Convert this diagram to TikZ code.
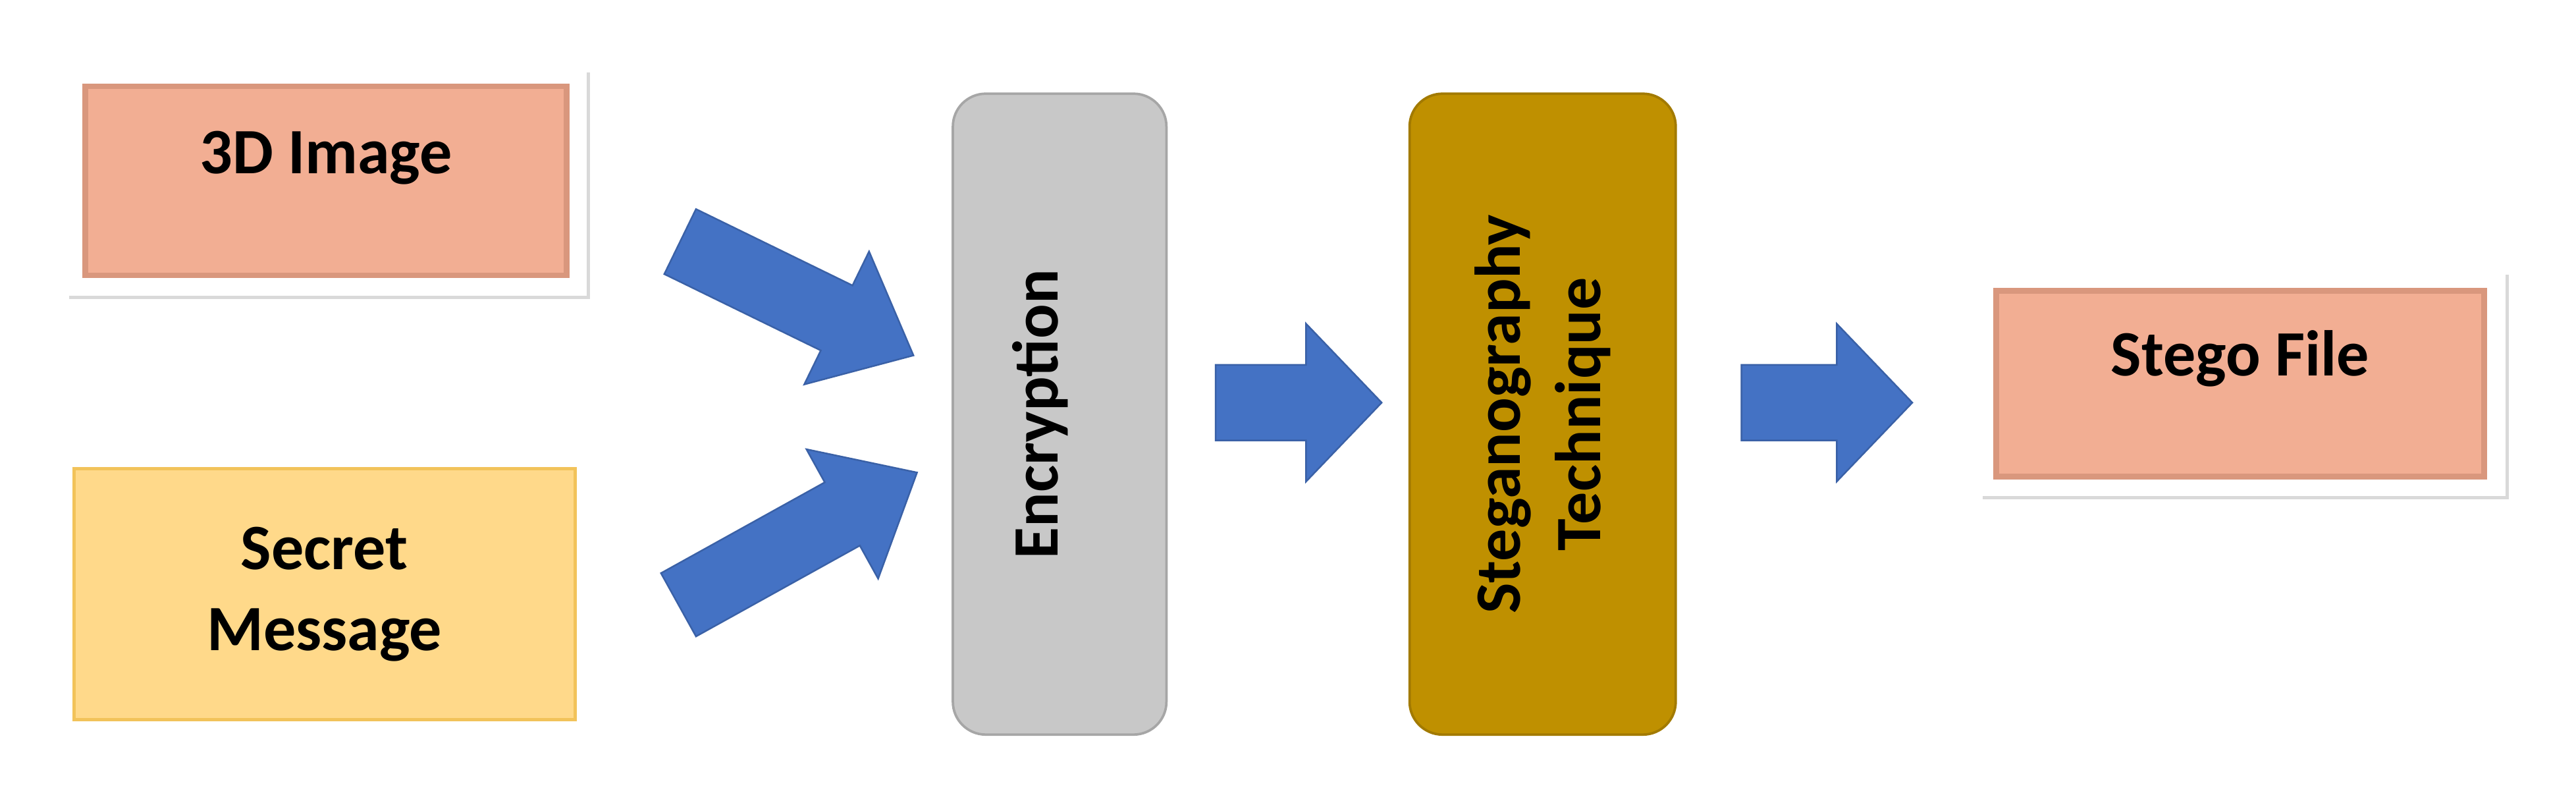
\documentclass[tikz,border=0pt]{standalone}
\usepackage{fontspec}
\setmainfont{Carlito}
\usetikzlibrary{shadows}
\begin{document}
\begin{tikzpicture}[x=0.1cm,y=-0.1cm,
  txt/.style={font=\fontsize{112}{140}\selectfont\bfseries,align=center,text=black},
  frame/.style={fill=white,draw=none,drop shadow={shadow xshift=0.2cm,shadow yshift=-0.2cm,opacity=0.3,fill=gray}},
  bevel/.style={fill=salmon,draw=salmondark,line width=0.35cm},
  barrow/.style={fill=arrowblue,draw=arrowblue!85!black,line width=0.1cm}]
\definecolor{salmon}{HTML}{F2AE93}
\definecolor{salmondark}{HTML}{D9977D}
\definecolor{yel}{HTML}{FFD98A}
\definecolor{yeldark}{HTML}{F2C35A}
\definecolor{grayb}{HTML}{C8C8C8}
\definecolor{gold}{HTML}{BF9000}
\definecolor{arrowblue}{HTML}{4472C4}
\useasboundingbox (0,0) rectangle (1568,487);
% 3D Image
\fill[frame] (40,42) rectangle (357,180);
\node[bevel,minimum width=29.3cm,minimum height=11.5cm] (img) at (198.5,110) {};
\node[txt] (imgt) at (198.5,96) {3D Image};
% Secret message
\node[fill=yel,draw=yeldark,line width=0.2cm,minimum width=30.5cm,minimum height=15.3cm,txt] (msg) at (197.5,361.5) {Secret\\Message};
% Encryption
\node[fill=grayb,draw=gray!70,line width=0.15cm,rounded corners=2cm,minimum width=13cm,minimum height=39cm] (enc) at (645,252) {};
\node[txt,rotate=90] (enct) at (633,252) {Encryption};
% Steganography
\node[fill=gold,draw=gold!85!black,line width=0.15cm,rounded corners=2cm,minimum width=16.2cm,minimum height=39cm] (ste) at (939,252) {};
\node[txt,rotate=90] (stet) at (939,252) {Steganography\\Technique};
% Stego file
\fill[frame] (1205,165) rectangle (1525,302);
\node[bevel,minimum width=29.7cm,minimum height=11.3cm] (sf) at (1363.5,233.5) {};
\node[txt] (sft) at (1363.5,218) {Stego File};
% arrows: tail at origin, pointing +x; L length, s shaft half, h head half, k head length
\newcommand{\blockarrow}[5]{\draw[barrow] (0,-#2) -- (#1-#4,-#2) -- (#1-#4,-#3) -- (#1,0) -- (#1-#4,#3) -- (#1-#4,#2) -- (0,#2) -- cycle;}
\begin{scope}[shift={(414,147)},rotate=-26]\blockarrow{158}{22}{45}{52}{}\end{scope}
\begin{scope}[shift={(413,368)},rotate=29]\blockarrow{166}{22}{45}{52}{}\end{scope}
\begin{scope}[shift={(740,245)}]\blockarrow{101}{23}{48}{46}{}\end{scope}
\begin{scope}[shift={(1060,245)}]\blockarrow{104}{23}{48}{46}{}\end{scope}
\end{tikzpicture}
\end{document}
